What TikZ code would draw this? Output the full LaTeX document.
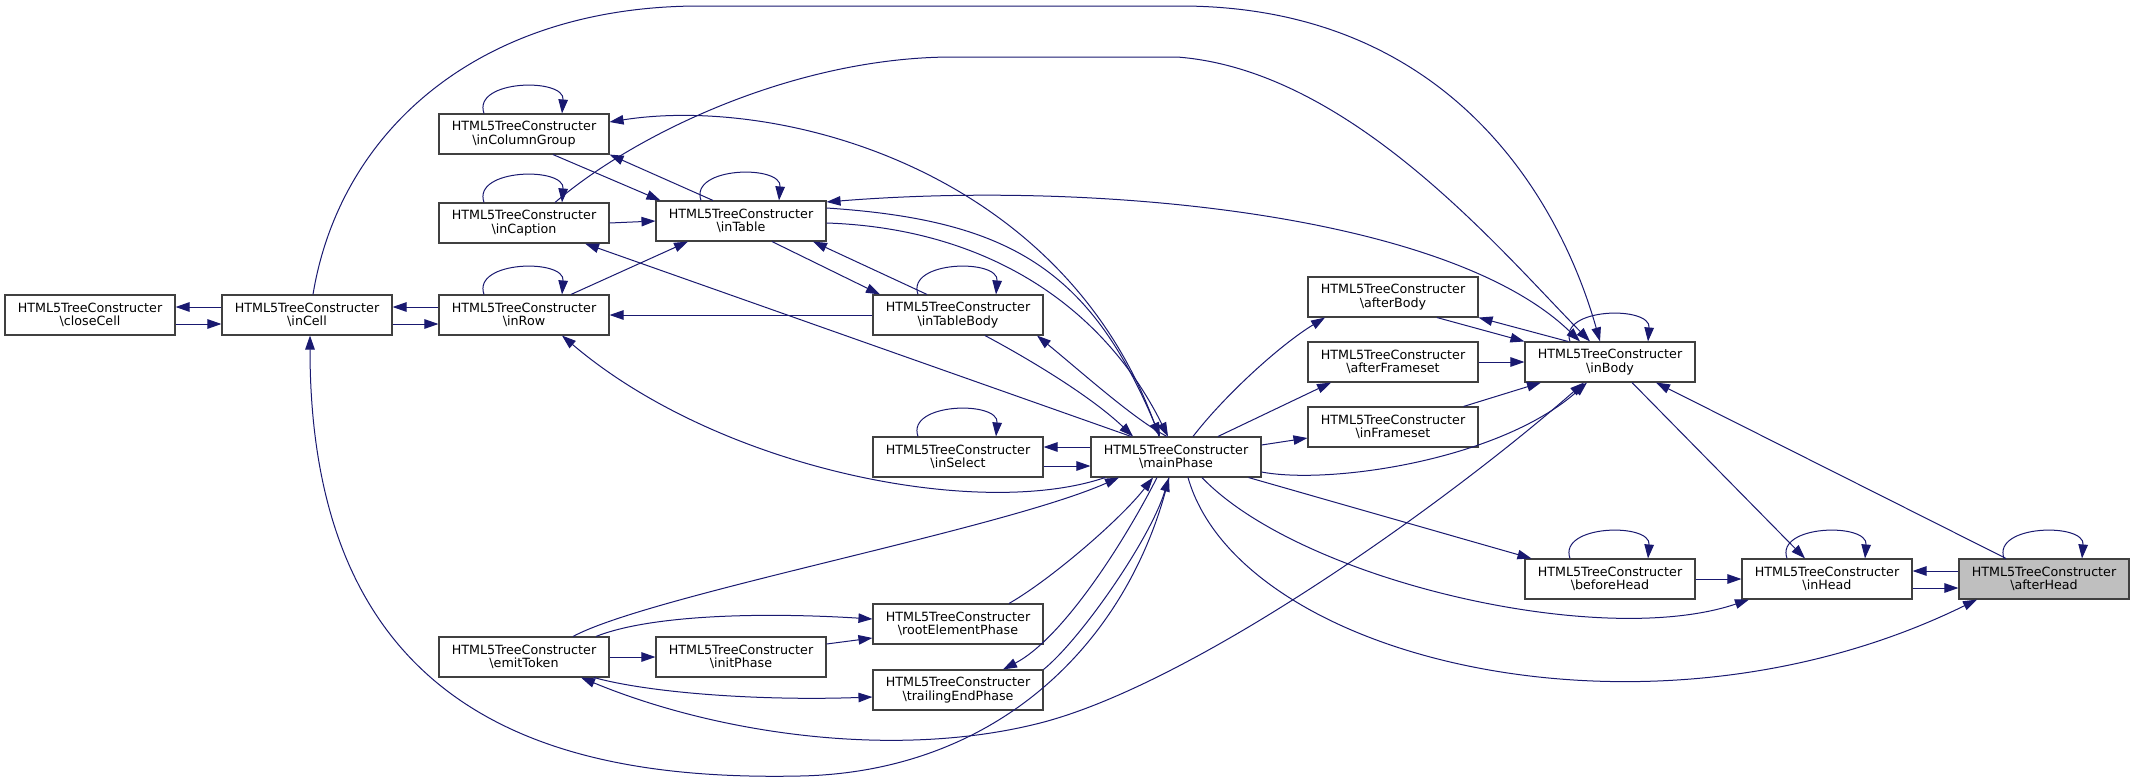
\documentclass[tikz,border=0pt]{standalone}
\usepackage{fontspec}
\setmainfont{DejaVu Sans}
\usetikzlibrary{arrows.meta}
\definecolor{edgeblue}{HTML}{191970}
\tikzset{
  fnode/.style={draw=black!75, line width=1.1pt, fill=white, minimum width=170pt, minimum height=40pt,
    inner sep=0pt, align=center, font=\fontsize{12.7pt}{13.6pt}\selectfont},
  call/.style={draw=edgeblue, line width=1pt, -{Triangle[length=14pt,width=9.5pt]}},
  dcall/.style={draw=edgeblue, line width=1pt, {Triangle[length=14pt,width=9.5pt]}-{Triangle[length=14pt,width=9.5pt]}},
}
\newcommand{\fname}[1]{HTML5TreeConstructer\\\textbackslash{}#1}
\begin{document}
\begin{tikzpicture}[x=1pt,y=-1pt]
\useasboundingbox (0,0) rectangle (2136,782);
\fill[white] (0,0) rectangle (2136,782);

% nodes
\node[fnode] (closeCell) at (90,315) {\fname{closeCell}};
\node[fnode] (inCell) at (307,315) {\fname{inCell}};
\node[fnode] (inRow) at (524,315) {\fname{inRow}};
\node[fnode] (inCaption) at (524,223) {\fname{inCaption}};
\node[fnode] (inColumnGroup) at (524,134) {\fname{inColumnGroup}};
\node[fnode] (inTable) at (741,221) {\fname{inTable}};
\node[fnode] (inTableBody) at (958,315) {\fname{inTableBody}};
\node[fnode] (inSelect) at (958,457) {\fname{inSelect}};
\node[fnode] (mainPhase) at (1176,457) {\fname{mainPhase}};
\node[fnode] (emitToken) at (524,657) {\fname{emitToken}};
\node[fnode] (initPhase) at (741,657) {\fname{initPhase}};
\node[fnode] (rootElementPhase) at (958,624) {\fname{rootElementPhase}};
\node[fnode] (trailingEndPhase) at (958,690) {\fname{trailingEndPhase}};
\node[fnode] (afterBody) at (1393,297) {\fname{afterBody}};
\node[fnode] (afterFrameset) at (1393,362) {\fname{afterFrameset}};
\node[fnode] (inFrameset) at (1393,427) {\fname{inFrameset}};
\node[fnode] (inBody) at (1610,362) {\fname{inBody}};
\node[fnode] (beforeHead) at (1610,579) {\fname{beforeHead}};
\node[fnode] (inHead) at (1827,579) {\fname{inHead}};
\node[fnode, fill=gray!50] (afterHead) at (2044,579) {\fname{afterHead}};

% self loops
\foreach \n in {inColumnGroup,inCaption,inRow,inTable,inTableBody,inSelect,inBody,beforeHead,inHead,afterHead}{
  \draw[call] ([xshift=-40pt]\n.north) .. controls +(-12,-34) and +(3,-36) .. ([xshift=38pt]\n.north);
}

% horizontal pairs
\draw[call] ([yshift=8pt]inCell.west) -- ([yshift=8pt]closeCell.east);
\draw[call] ([yshift=-9pt]closeCell.east) -- ([yshift=-9pt]inCell.west);
\draw[call] ([yshift=8pt]inRow.west) -- ([yshift=8pt]inCell.east);
\draw[call] ([yshift=-9pt]inCell.east) -- ([yshift=-9pt]inRow.west);
\draw[call] ([yshift=10pt]mainPhase.west) -- ([yshift=10pt]inSelect.east);
\draw[call] ([yshift=-9pt]inSelect.east) -- ([yshift=-9pt]mainPhase.west);
\draw[call] ([yshift=8pt]afterHead.west) -- ([yshift=8pt]inHead.east);
\draw[call] ([yshift=-9pt]inHead.east) -- ([yshift=-9pt]afterHead.west);
\draw[call] (inCaption.east) -- (inTable.west);
\draw[call] (inTableBody.west) -- (inRow.east);
\draw[call] (afterFrameset.east) -- (inBody.west);
\draw[call] (beforeHead.east) -- (inHead.west);
\draw[call] (emitToken.east) -- (initPhase.west);

% straight diagonals
\draw[call] ([xshift=29pt]inColumnGroup.south) -- ([xshift=5pt]inTable.north west);
\draw[call] ([xshift=-28pt]inTable.north) -- (inColumnGroup.south east);
\draw[call] ([xshift=47pt]inRow.north) -- ([xshift=-53pt]inTable.south);
\draw[call] ([xshift=31pt]inTable.south) -- ([xshift=-78pt]inTableBody.north);
\draw[call] ([xshift=-31pt]inTableBody.north) -- ([xshift=72pt]inTable.south);
\draw[call] ([xshift=-45pt]mainPhase.north) -- ([xshift=61pt]inCaption.south);
\draw[call] ([xshift=27pt]inTableBody.south) .. controls (1040,365) and (1095,400) .. ([xshift=-43pt]mainPhase.north);
\draw[call] ([xshift=-9pt]mainPhase.north) .. controls (1135,420) and (1085,375) .. ([xshift=79pt]inTableBody.south);
\draw[call] ([xshift=17pt]mainPhase.north) .. controls (1225,395) and (1280,345) .. ([xshift=-68pt]afterBody.south);
\draw[call] ([xshift=42pt]mainPhase.north) -- ([xshift=-62pt]afterFrameset.south);
\draw[call] ([yshift=12pt]mainPhase.east) -- ([yshift=-11pt]inFrameset.west);
\draw[call] ([xshift=44pt]afterBody.south) -- (inBody.north west);
\draw[call] ([xshift=-42pt]inBody.north) -- (afterBody.south east);
\draw[call] ([xshift=-15pt]inFrameset.north east) -- ([xshift=-69pt]inBody.south);
\draw[call] ([xshift=22pt]inBody.south) -- ([xshift=-22pt]inHead.north);
\draw[call] ([xshift=-38pt]afterHead.north) -- ([xshift=46pt]inBody.south);
\draw[call] ([xshift=-13pt]mainPhase.south east) -- ([xshift=7pt]beforeHead.north west);
\draw[call] ([yshift=13pt]initPhase.east) -- ([yshift=-14pt]rootElementPhase.west);

% bottom cluster curves
\draw[call] ([xshift=72pt]emitToken.north) .. controls (650,615) and (760,612) .. ([yshift=5pt]rootElementPhase.west);
\draw[call] ([xshift=70pt]emitToken.south) .. controls (650,693) and (760,701) .. ([yshift=-7pt]trailingEndPhase.west);
\draw[call] ([xshift=49pt]emitToken.north) .. controls (650,595) and (1000,530) .. ([xshift=-57pt]mainPhase.south);
\draw[call] ([xshift=51pt]rootElementPhase.north) .. controls (1050,580) and (1120,520) .. ([xshift=-23pt]mainPhase.south);
\draw[call] (trailingEndPhase.north east) .. controls (1080,640) and (1150,540) .. ([xshift=-7pt]mainPhase.south);
\draw[call] ([xshift=-19pt]mainPhase.south) .. controls (1120,550) and (1060,640) .. ([xshift=45pt]trailingEndPhase.north);
\draw[call] ([xshift=-71pt]mainPhase.south) .. controls (980,520) and (720,470) .. ([xshift=38pt]inRow.south);
\draw[call] ([xshift=-7pt]mainPhase.south) .. controls (1130,640) and (1000,772) .. (800,776)
   .. controls (560,781) and (310,720) .. ([xshift=3pt]inCell.south);
\draw[dcall] ([xshift=57pt]emitToken.south) .. controls (720,735) and (900,760) .. (1044,722)
   .. controls (1200,680) and (1450,500) .. ([xshift=-26pt]inBody.south);
\draw[call] ([yshift=-15pt]mainPhase.east) .. controls (1330,485) and (1500,460) .. ([xshift=-23pt]inBody.south);
\draw[call] ([xshift=26pt]mainPhase.south) .. controls (1300,580) and (1600,650) .. ([xshift=-78pt]inHead.south);
\draw[call] ([xshift=12pt]mainPhase.south) .. controls (1240,660) and (1650,760) .. ([xshift=-67pt]afterHead.south);

% top curves
\draw[call] ([xshift=6pt]inCell.north) .. controls (340,130) and (480,6) .. (700,6) -- (1180,6)
   .. controls (1450,6) and (1560,200) .. ([xshift=-10pt]inBody.north);
\draw[call] ([xshift=31pt]inCaption.north) .. controls (640,130) and (800,57) .. (953,57) -- (1177,57)
   .. controls (1350,70) and (1500,250) .. ([xshift=-20pt]inBody.north);
\draw[dcall] ([yshift=19pt]inTable.east) .. controls (1100,180) and (1450,215) .. ([xshift=-30pt]inBody.north);
\draw[call] ([xshift=-17pt]mainPhase.north) .. controls (1070,170) and (780,95) .. ([yshift=12pt]inColumnGroup.east);
\draw[call] ([yshift=13pt]inTable.east) .. controls (1010,220) and (1090,270) .. ([xshift=-16pt]mainPhase.north);
\draw[call] ([yshift=-2pt]inTable.east) .. controls (980,228) and (1100,300) .. ([xshift=-8pt]mainPhase.north);
\end{tikzpicture}
\end{document}
